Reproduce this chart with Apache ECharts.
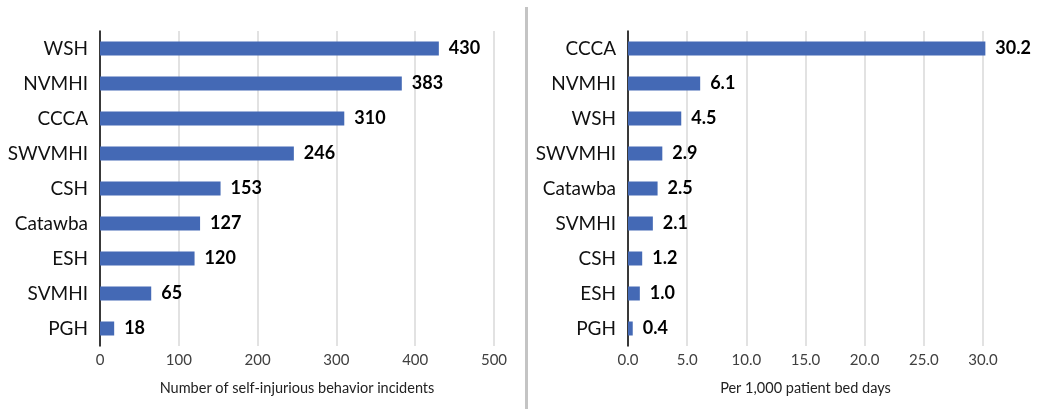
<!DOCTYPE html>
<html>
<head>
<meta charset="utf-8">
<script src="https://cdn.jsdelivr.net/npm/echarts@6/dist/echarts.min.js"></script>
<style>
	html, body { margin: 0; padding: 0; background: #fff; }
	#chart { width: 1058px; height: 409px; }
</style>
</head>
<body>
<div id="chart"></div>
<script>
// left panel: incident counts
var countNames = ['WSH', 'NVMHI', 'CCCA', 'SWVMHI', 'CSH', 'Catawba', 'ESH', 'SVMHI', 'PGH'];
var countValues = [430, 383, 310, 246, 153, 127, 120, 65, 18];

// right panel: rate per 1,000 patient bed days
var rateNames = ['CCCA', 'NVMHI', 'WSH', 'SWVMHI', 'Catawba', 'SVMHI', 'CSH', 'ESH', 'PGH'];
var rateValues = [30.2, 6.1, 4.5, 2.9, 2.5, 2.1, 1.2, 1.0, 0.4];

var font = 'Lato';
var barColor = '#4469b5';

function catAxis(idx, names) {
	return {
		type: 'category',
		gridIndex: idx,
		data: names,
		inverse: true,
		axisLine: { show: true, lineStyle: { color: '#000', width: 1.5 } },
		axisTick: { show: false },
		axisLabel: { color: '#111', fontSize: 19, fontFamily: font, margin: 12 }
	};
}

function valAxis(idx, max, interval, name, digits) {
	return {
		type: 'value',
		gridIndex: idx,
		min: 0,
		max: max,
		interval: interval,
		name: name,
		nameLocation: 'middle',
		nameGap: 35,
		nameTextStyle: { color: '#222', fontSize: 14.5, fontFamily: font },
		axisLine: { show: false },
		axisTick: { show: false },
		axisLabel: {
			color: '#404040',
			fontSize: 15,
			fontFamily: font,
			margin: 7,
			formatter: function(v) {
				return v.toFixed(digits);
			}
		},
		splitLine: { lineStyle: { color: '#d9d9d9', width: 1.5 } }
	};
}

function barSeries(idx, values, digits) {
	return {
		type: 'bar',
		xAxisIndex: idx,
		yAxisIndex: idx,
		data: values,
		barWidth: 14,
		clip: false,
		itemStyle: { color: barColor },
		label: {
			show: true,
			position: 'right',
			distance: 10,
			color: '#000',
			fontSize: 18,
			fontWeight: 'bold',
			fontFamily: font,
			formatter: function(p) {
				return p.value.toFixed(digits);
			}
		}
	};
}

var chart = echarts.init(document.getElementById('chart'));
chart.setOption({
	animation: false,
	grid: [
		{ left: 100, right: 564, top: 31, bottom: 63 },
		{ left: 628, right: 75, top: 31, bottom: 63 }
	],
	xAxis: [
		valAxis(0, 500, 100, 'Number of self-injurious behavior incidents', 0),
		valAxis(1, 30, 5, 'Per 1,000 patient bed days', 1)
	],
	yAxis: [
		catAxis(0, countNames),
		catAxis(1, rateNames)
	],
	series: [
		barSeries(0, countValues, 0),
		barSeries(1, rateValues, 1)
	],
	graphic: [{
		type: 'rect',
		shape: { x: 525, y: 7, width: 3, height: 402 },
		style: { fill: '#c4c4c4' }
	}]
});
</script>
</body>
</html>
